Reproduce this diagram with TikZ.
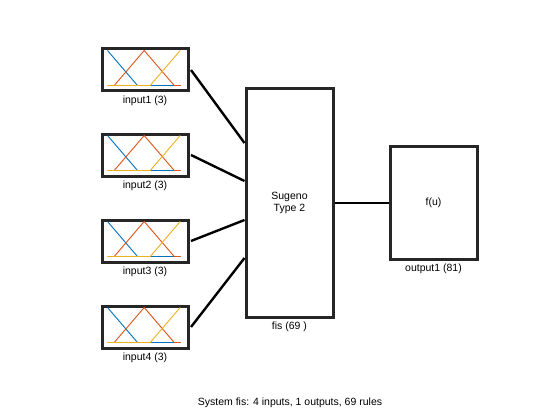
\documentclass[tikz,border=0pt]{standalone}
\usepackage{fontspec}
\setmainfont{Liberation Sans}
\definecolor{mblue}{rgb}{0,0.447,0.741}
\definecolor{morange}{rgb}{0.85,0.325,0.098}
\definecolor{myellow}{rgb}{0.929,0.694,0.125}
\definecolor{boxgray}{HTML}{262626}
\begin{document}
\begin{tikzpicture}[x=1pt,y=-1pt,
  every node/.style={font=\fontsize{10.5}{12.5}\selectfont},
  blk/.style={draw=boxgray,line width=3pt,fill=white,inner sep=0pt},
  inbox/.style={blk,minimum width=86pt,minimum height=42pt},
  lbl/.style={inner sep=0pt},
  wire/.style={line width=2.4pt,black},
  mf/.style={line width=0.9pt}]
\useasboundingbox (0,0) rectangle (560,420);
\foreach \i/\y in {1/70,2/155,3/241,4/327}{
  \node[inbox] (in\i) at (145,\y) {};
  \node[lbl,anchor=north] (l\i) at ([yshift=-3pt]in\i.south) {input\i\ (3)};
  \begin{scope}[shift={(in\i.north west)}]
    \draw[mf,mblue] (7,3) -- (37,38) -- (80,38);
    \draw[mf,morange] (7,38) -- (13.7,38) -- (43.7,3) -- (73.7,38) -- (80,38);
    \draw[mf,myellow] (7,38) -- (49.7,38) -- (79.7,3);
  \end{scope}
}
\node[blk,minimum width=87pt,minimum height=228pt,align=center] (fis) at (289.5,203) {Sugeno\\Type 2};
\node[lbl,anchor=north] (lf) at ([yshift=-3pt]fis.south) {fis (69 )};
\node[blk,minimum width=87pt,minimum height=113pt] (out) at (433.5,203) {f(u)};
\node[lbl,anchor=north] (lo) at ([yshift=-3pt]out.south) {output1 (81)};
\coordinate (f1) at ([yshift=60pt]fis.west);
\coordinate (f2) at ([yshift=22pt]fis.west);
\coordinate (f3) at ([yshift=-17pt]fis.west);
\coordinate (f4) at ([yshift=-55pt]fis.west);
\foreach \i in {1,2,3,4}{
  \draw[wire] ([xshift=1.5pt]in\i.east) -- (f\i);
}
\draw[wire] (fis.east) -- (out.west);
\node[lbl] (cap) at (290,403) {System fis: 4 inputs, 1 outputs, 69 rules};
\end{tikzpicture}
\end{document}
